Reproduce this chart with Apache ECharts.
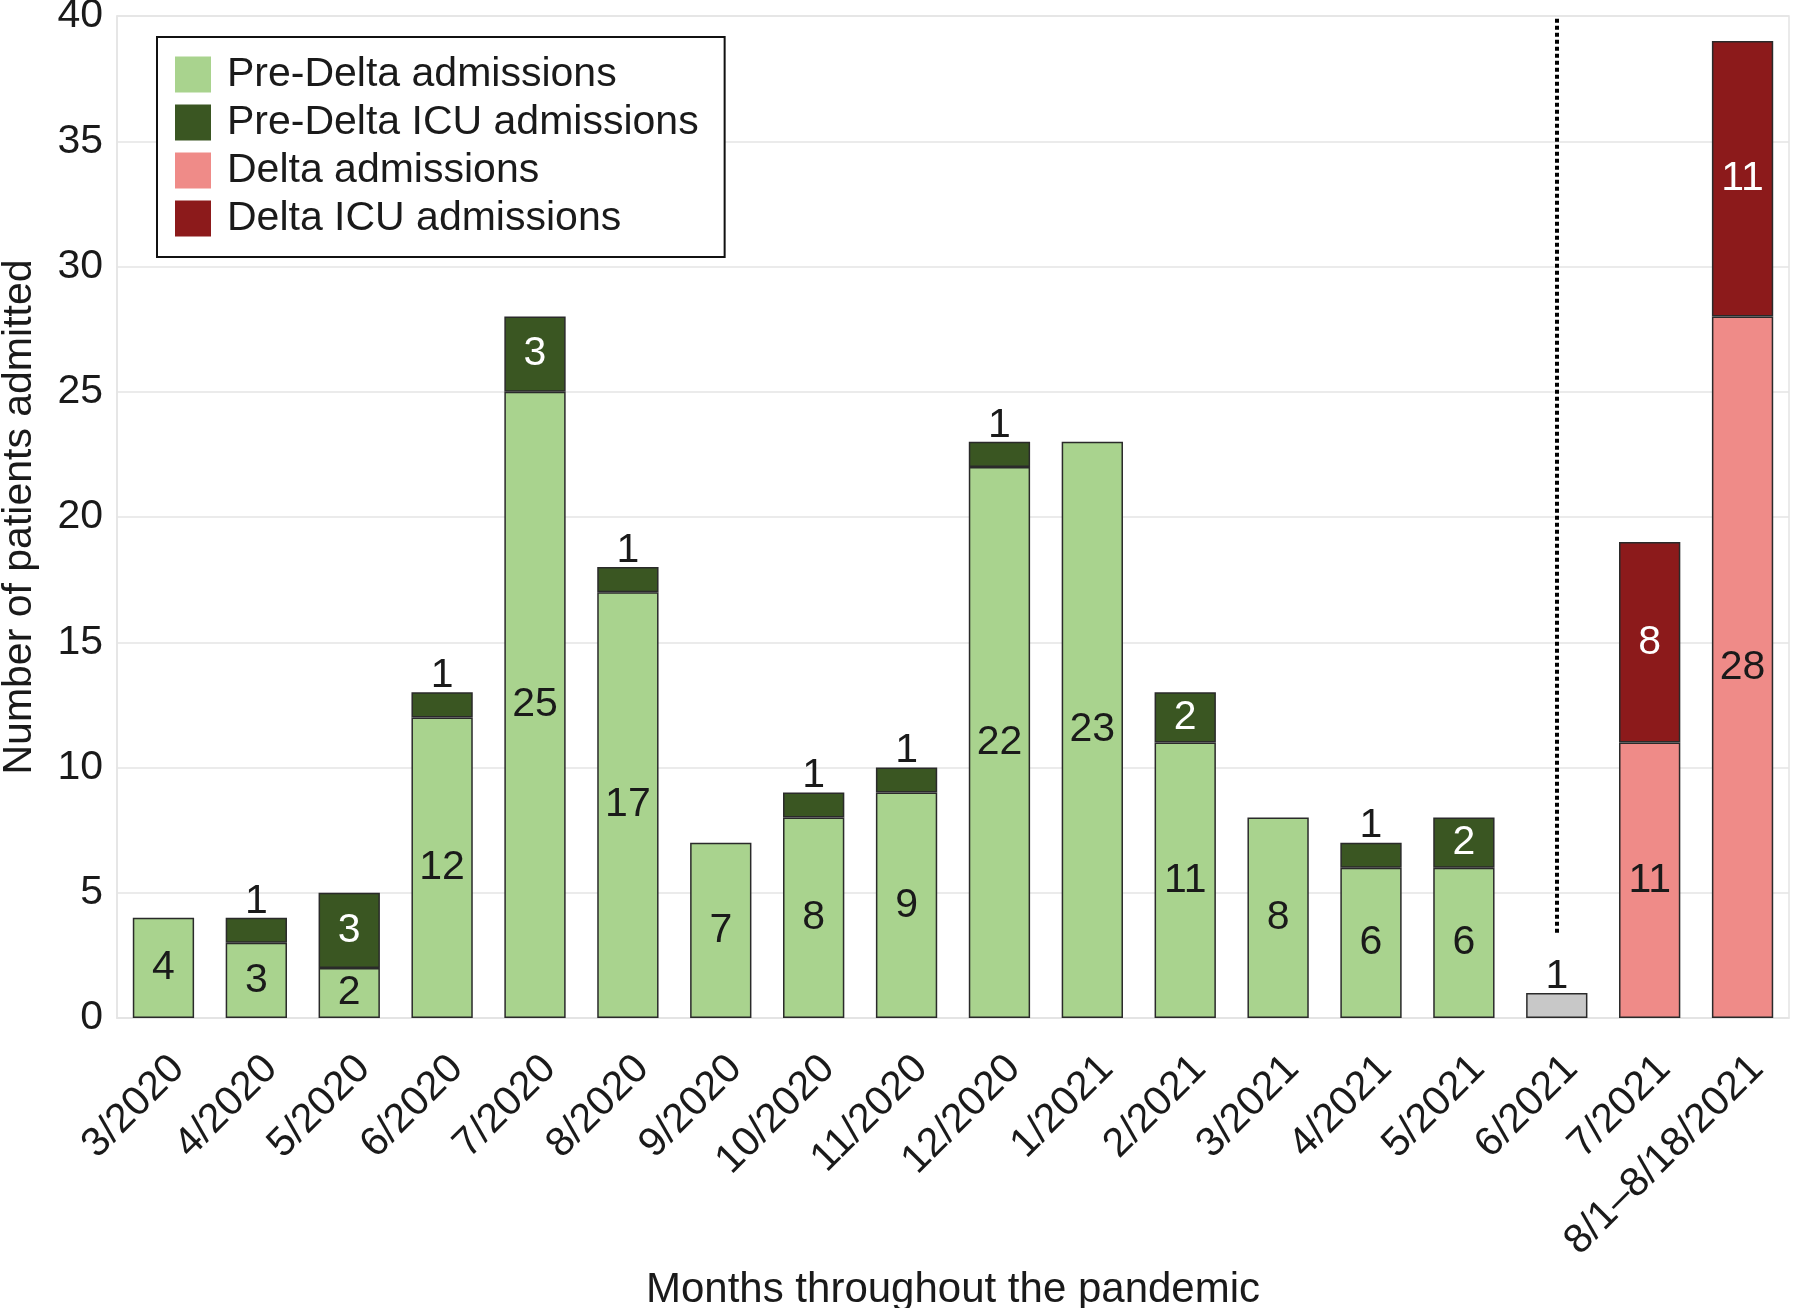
<!DOCTYPE html>
<html>
<head>
<meta charset="utf-8">
<script src="https://cdn.jsdelivr.net/npm/echarts@6/dist/echarts.min.js"></script>
<style>
html,body{margin:0;padding:0;background:#fff;}
#chart{width:1800px;height:1308px;}
</style>
</head>
<body>
<div id="chart"></div>
<script>
// ---- data ----
const categories = ['3/2020','4/2020','5/2020','6/2020','7/2020','8/2020','9/2020','10/2020','11/2020','12/2020','1/2021','2/2021','3/2021','4/2021','5/2021','6/2021','7/2021','8/1–8/18/2021'];
const preDelta    = [4, 3, 2, 12, 25, 17, 7, 8, 9, 22, 23, 11, 8, 6, 6, null, null, null];
const preDeltaICU = [null, 1, 3, 1, 3, 1, null, 1, 1, 1, null, 2, null, 1, 2, null, null, null];
const transition  = [null, null, null, null, null, null, null, null, null, null, null, null, null, null, null, 1, null, null];
const delta       = [null, null, null, null, null, null, null, null, null, null, null, null, null, null, null, null, 11, 28];
const deltaICU    = [null, null, null, null, null, null, null, null, null, null, null, null, null, null, null, null, 8, 11];
const dividerCategory = '6/2021';
const dividerRange = [3.4, 40];
const yTicks = [0, 5, 10, 15, 20, 25, 30, 35, 40];

// ---- style ----
const FONT = 'Liberation Sans, Arial, Helvetica, sans-serif';
const FS = 41;
const TXT = '#1a1a1a';
const GRIDC = '#e4e4e4';
const EDGE = '#2a2a2a';

function items(arr, smallTop, insideColor) {
  return arr.map(v => {
    if (v === null) return { value: null };
    const top = smallTop && v < 2;
    return {
      value: v,
      label: top
        ? { show: true, position: 'top', distance: -4, color: TXT }
        : { show: true, position: 'inside', color: insideColor }
    };
  });
}

const common = {
  type: 'bar',
  stack: 'total',
  barCategoryGap: '34%',
  label: { fontSize: FS, fontFamily: FONT },
  itemStyle: { borderColor: EDGE, borderWidth: 1.5 },
  emphasis: { disabled: true }
};

const chart = echarts.init(document.getElementById('chart'), null, { renderer: 'canvas' });
chart.setOption({
  animation: false,
  backgroundColor: '#ffffff',
  textStyle: { fontFamily: FONT },
  grid: { left: 117, right: 11, top: 16, bottom: 290, show: true, borderColor: GRIDC, borderWidth: 1.5, containLabel: false, outerBoundsMode: 'none' },
  legend: {
    data: ['Pre-Delta admissions', 'Pre-Delta ICU admissions', 'Delta admissions', 'Delta ICU admissions'],
    orient: 'vertical',
    left: 157, top: 37,
    itemWidth: 36, itemHeight: 36, itemGap: 7,
    icon: 'rect',
    padding: [17, 26, 18, 18],
    borderColor: '#111', borderWidth: 2,
    backgroundColor: '#fff',
    itemStyle: { borderWidth: 0 },
    textStyle: { fontSize: FS, fontFamily: FONT, color: TXT, padding: [0, 0, 0, 11] },
    selectedMode: false
  },
  xAxis: {
    type: 'category',
    data: categories,
    name: 'Months throughout the pandemic',
    nameLocation: 'middle',
    nameGap: 243,
    nameTextStyle: { fontSize: 42, fontFamily: FONT, color: TXT },
    axisLine: { show: true, lineStyle: { color: GRIDC, width: 1.5 } },
    axisTick: { show: false },
    axisLabel: { rotate: 45, fontSize: FS, fontFamily: FONT, color: TXT, margin: 30, interval: 0, verticalAlign: 'top' }
  },
  yAxis: {
    type: 'value',
    min: yTicks[0], max: yTicks[yTicks.length - 1], interval: 5,
    name: 'Number of patients admitted',
    nameLocation: 'middle',
    nameGap: 77,
    nameRotate: 90,
    nameTextStyle: { fontSize: FS, fontFamily: FONT, color: TXT },
    axisLine: { show: true, lineStyle: { color: GRIDC, width: 1.5 } },
    axisTick: { show: false },
    axisLabel: { fontSize: FS, fontFamily: FONT, color: TXT, margin: 14 },
    splitLine: { lineStyle: { color: GRIDC, width: 1.5 } }
  },
  series: [
    Object.assign({}, common, { name: 'Pre-Delta admissions', color: '#a9d38e', data: items(preDelta, false, TXT) }),
    Object.assign({}, common, { name: 'Pre-Delta ICU admissions', color: '#3a5622', data: items(preDeltaICU, true, '#ffffff') }),
    Object.assign({}, common, {
      name: 'Transition', color: '#c8c8c8', data: items(transition, true, TXT),
      markLine: {
        silent: true, symbol: 'none', animation: false,
        label: { show: false },
        lineStyle: { color: '#000', width: 4, type: [4, 3], cap: 'butt' },
        data: [[{ coord: [dividerCategory, dividerRange[0]] }, { coord: [dividerCategory, dividerRange[1]] }]]
      }
    }),
    Object.assign({}, common, { name: 'Delta admissions', color: '#ef8b88', data: items(delta, false, TXT) }),
    Object.assign({}, common, { name: 'Delta ICU admissions', color: '#8c1a1b', data: items(deltaICU, false, '#ffffff') })
  ]
});
</script>
</body>
</html>
